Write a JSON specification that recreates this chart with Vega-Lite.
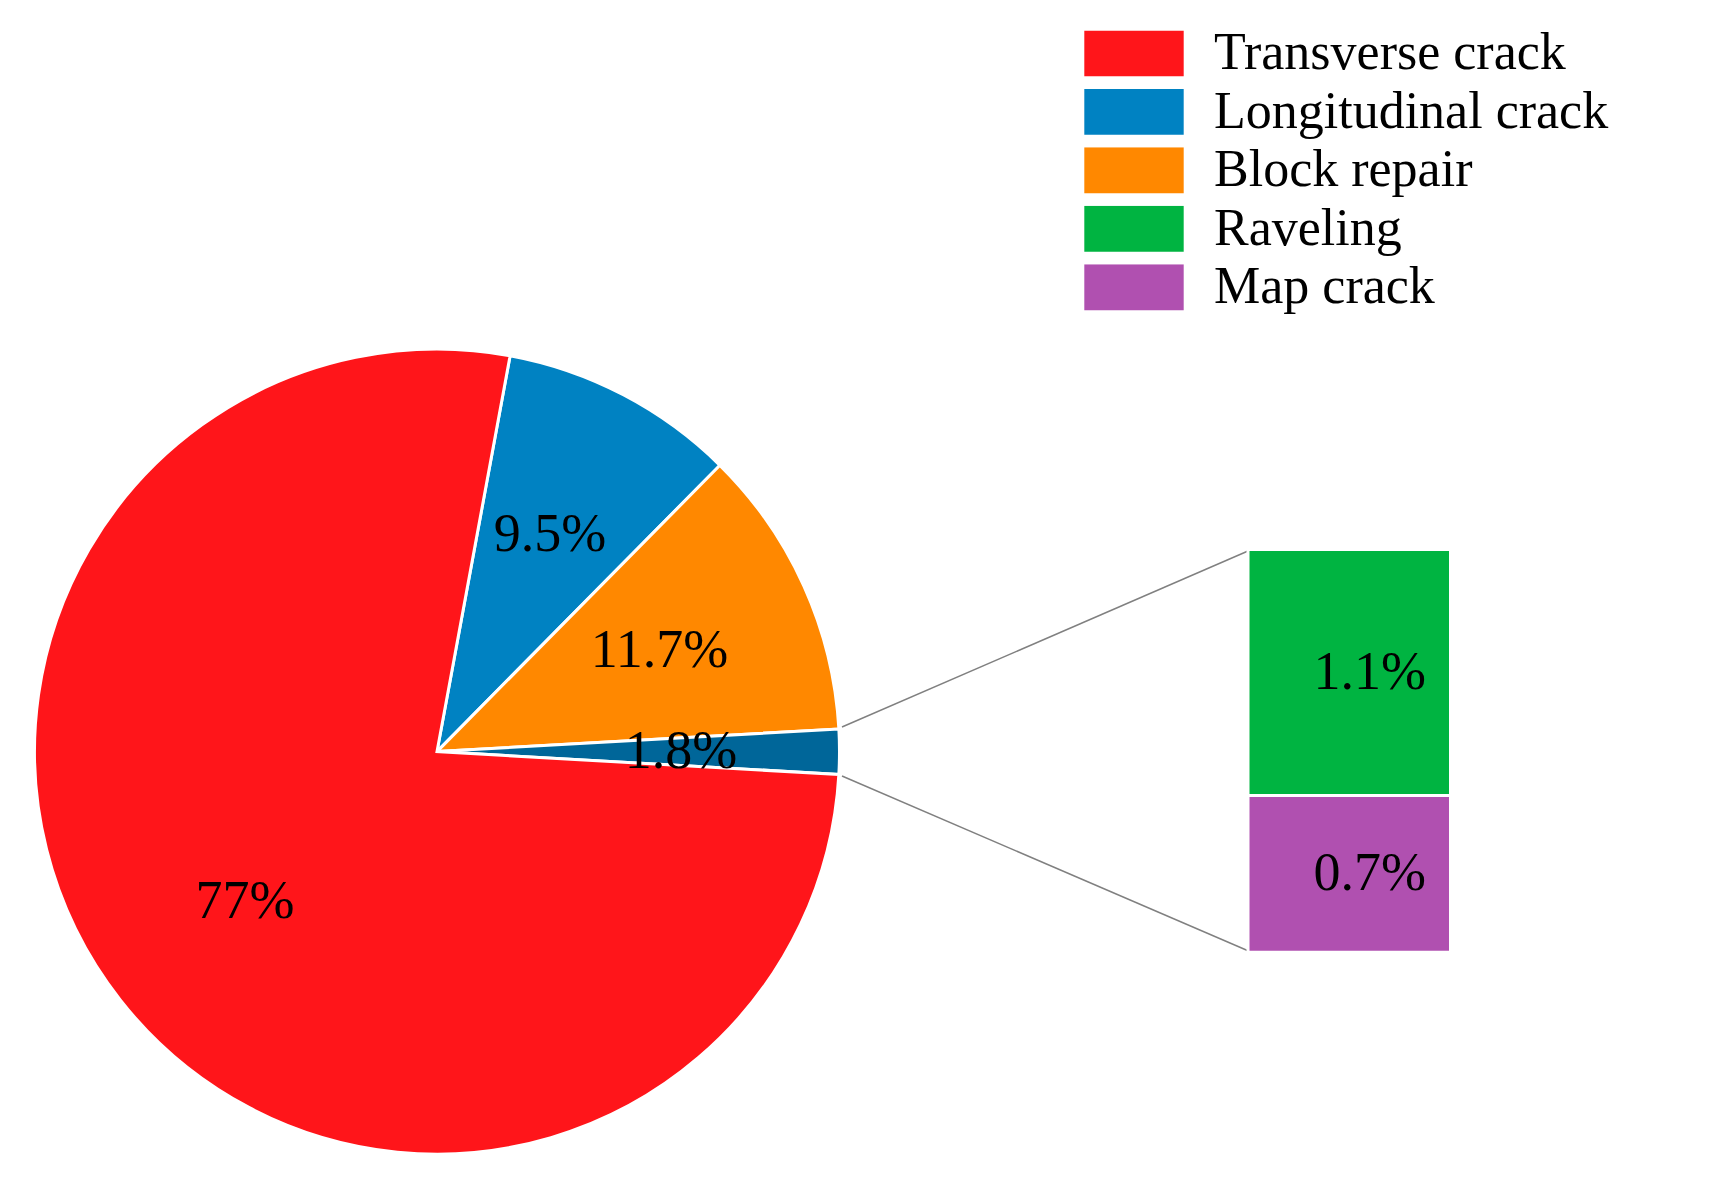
{
  "$schema": "https://vega.github.io/schema/vega-lite/v6.json",
  "width": 1713,
  "height": 1190,
  "padding": 0,
  "autosize": {"type": "none"},
  "background": "white",
  "config": {
    "view": {"stroke": null},
    "legend": {
      "orient": "none",
      "legendX": 1084,
      "legendY": 30.4,
      "padding": 0,
      "symbolType": "M-1,-0.462H1V0.462H-1Z",
      "symbolSize": 9880,
      "symbolStrokeWidth": 0,
      "symbolOpacity": 1,
      "labelFont": "Liberation Serif",
      "labelFontSize": 52,
      "labelColor": "black",
      "labelOffset": 30,
      "labelLimit": 1000,
      "rowPadding": 6.45,
      "clipHeight": 46
    }
  },
  "datasets": {
    "pie": [
      {"category": "Longitudinal crack", "value": 9.5, "label": "9.5%", "order": 1},
      {"category": "Block repair", "value": 11.7, "label": "11.7%", "order": 2},
      {"category": "Other", "value": 1.8, "label": "1.8%", "order": 3},
      {"category": "Transverse crack", "value": 77, "label": "77%", "order": 4}
    ],
    "bar": [
      {"category": "Map crack", "value": 0.7, "label": "0.7%", "order": 1},
      {"category": "Raveling", "value": 1.1, "label": "1.1%", "order": 2}
    ]
  },
  "layer": [
    {
      "data": {"name": "pie"},
      "mark": {"type": "arc", "radius": 402.5, "stroke": "white", "strokeWidth": 3},
      "encoding": {
        "x": {"datum": 437, "type": "quantitative", "scale": {"domain": [0, 1713], "nice": false, "zero": false}, "axis": null},
        "y": {"datum": 751.6, "type": "quantitative", "scale": {"domain": [0, 1190], "reverse": true, "nice": false, "zero": false}, "axis": null},
        "theta": {"field": "value", "type": "quantitative", "stack": true, "scale": {"range": [0.1826, 6.4658]}},
        "color": {
          "field": "category",
          "type": "nominal",
          "scale": {
            "domain": ["Transverse crack", "Longitudinal crack", "Block repair", "Raveling", "Map crack", "Other"],
            "range": ["#FF151A", "#0082C2", "#FF8800", "#00B441", "#B050B0", "#006699"]
          },
          "legend": {"title": null, "values": ["Transverse crack", "Longitudinal crack", "Block repair", "Raveling", "Map crack"]}
        },
        "order": {"field": "order", "type": "quantitative"}
      }
    },
    {
      "data": {"name": "pie"},
      "mark": {"type": "text", "radius": 244, "font": "Liberation Serif", "fontSize": 54, "color": "black", "align": "center", "baseline": "middle"},
      "encoding": {
        "x": {"datum": 437, "type": "quantitative", "scale": {"domain": [0, 1713], "nice": false, "zero": false}, "axis": null},
        "y": {"datum": 751.6, "type": "quantitative", "scale": {"domain": [0, 1190], "reverse": true, "nice": false, "zero": false}, "axis": null},
        "theta": {"field": "value", "type": "quantitative", "stack": true, "scale": {"range": [0.1826, 6.4658]}},
        "detail": {"field": "category", "type": "nominal"},
        "order": {"field": "order", "type": "quantitative"},
        "text": {"field": "label", "type": "nominal"}
      }
    },
    {
      "data": {"values": [{}]},
      "mark": {"type": "rule", "color": "#808080", "strokeWidth": 1.5},
      "encoding": {
        "x": {"datum": 842, "type": "quantitative", "scale": {"domain": [0, 1713], "nice": false, "zero": false}, "axis": null},
        "y": {"datum": 727, "type": "quantitative", "scale": {"domain": [0, 1190], "reverse": true, "nice": false, "zero": false}, "axis": null},
        "x2": {"datum": 1248},
        "y2": {"datum": 551}
      }
    },
    {
      "data": {"values": [{}]},
      "mark": {"type": "rule", "color": "#808080", "strokeWidth": 1.5},
      "encoding": {
        "x": {"datum": 842, "type": "quantitative", "scale": {"domain": [0, 1713], "nice": false, "zero": false}, "axis": null},
        "y": {"datum": 776, "type": "quantitative", "scale": {"domain": [0, 1190], "reverse": true, "nice": false, "zero": false}, "axis": null},
        "x2": {"datum": 1248},
        "y2": {"datum": 950.7}
      }
    },
    {
      "data": {"name": "bar"},
      "transform": [
        {"stack": "value", "groupby": [], "sort": [{"field": "order", "order": "ascending"}], "as": ["v0", "v1"]}
      ],
      "mark": {"type": "rect", "stroke": "white", "strokeWidth": 3},
      "encoding": {
        "x": {"datum": 1248, "type": "quantitative", "scale": {"domain": [0, 1713], "nice": false, "zero": false}, "axis": null},
        "x2": {"datum": 1450.5},
        "y": {"field": "v0", "type": "quantitative", "scale": {"domain": [-1.063, 4.2566], "nice": false, "zero": false}, "axis": null},
        "y2": {"field": "v1"},
        "color": {"field": "category", "type": "nominal", "legend": {"title": null, "values": ["Transverse crack", "Longitudinal crack", "Block repair", "Raveling", "Map crack"]}}
      }
    },
    {
      "data": {"name": "bar"},
      "transform": [
        {"stack": "value", "groupby": [], "sort": [{"field": "order", "order": "ascending"}], "as": ["v0", "v1"]},
        {"fold": ["v0", "v1"], "as": ["edge", "pos"]}
      ],
      "mark": {"type": "text", "font": "Liberation Serif", "fontSize": 54, "color": "black", "align": "right", "baseline": "middle"},
      "encoding": {
        "x": {"datum": 1426, "type": "quantitative", "scale": {"domain": [0, 1713], "nice": false, "zero": false}, "axis": null},
        "y": {"field": "pos", "aggregate": "mean", "type": "quantitative", "scale": {"domain": [-1.063, 4.2566], "nice": false, "zero": false}, "axis": null},
        "text": {"field": "label", "type": "nominal"}
      }
    }
  ],
  "resolve": {"scale": {"y": "independent"}}
}
